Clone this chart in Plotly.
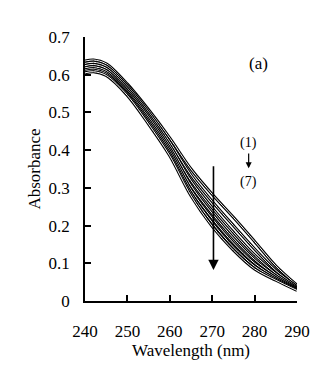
import plotly.graph_objects as go

# Wavelength grid (nm) and absorbance spectra (1) ... (7)
wavelength = [240, 242, 245, 250, 255, 260, 265, 270, 275, 280, 285, 290]
spec_1 = [0.636, 0.639, 0.629, 0.575, 0.507, 0.432, 0.350, 0.283, 0.222, 0.158, 0.093, 0.042]
spec_2 = [0.630, 0.633, 0.623, 0.570, 0.501, 0.422, 0.334, 0.264, 0.200, 0.138, 0.081, 0.038]
spec_3 = [0.624, 0.627, 0.617, 0.564, 0.494, 0.413, 0.319, 0.247, 0.182, 0.122, 0.073, 0.035]
spec_4 = [0.618, 0.621, 0.611, 0.558, 0.488, 0.405, 0.306, 0.232, 0.167, 0.110, 0.067, 0.033]
spec_5 = [0.613, 0.616, 0.606, 0.553, 0.481, 0.398, 0.295, 0.219, 0.154, 0.100, 0.062, 0.031]
spec_6 = [0.609, 0.612, 0.602, 0.549, 0.475, 0.391, 0.286, 0.208, 0.143, 0.092, 0.058, 0.030]
spec_7 = [0.605, 0.608, 0.598, 0.545, 0.469, 0.385, 0.279, 0.198, 0.135, 0.085, 0.055, 0.028]
spectra = [spec_1, spec_2, spec_3, spec_4, spec_5, spec_6, spec_7]

x_ticks = [240, 250, 260, 270, 280, 290]
y_ticks = [0, 0.1, 0.2, 0.3, 0.4, 0.5, 0.6, 0.7]
y_tick_text = ["0", "0.1", "0.2", "0.3", "0.4", "0.5", "0.6", "0.7"]

FONT = "Times New Roman, Liberation Serif, serif"

fig = go.Figure()
# each spectrum is drawn as an outlined line: black stroke with a white core
for s in spectra:
    fig.add_trace(go.Scatter(x=wavelength, y=s, mode="lines",
                             line=dict(color="black", width=3.0, shape="spline", smoothing=0.9),
                             hoverinfo="skip", showlegend=False))
    fig.add_trace(go.Scatter(x=wavelength, y=s, mode="lines",
                             line=dict(color="white", width=1.0, shape="spline", smoothing=0.9),
                             hoverinfo="skip", showlegend=False))

# large arrow showing the decrease from (1) to (7)
fig.add_annotation(x=270.3, y=0.082, ax=270.3, ay=0.361, xref="x", yref="y",
                   axref="x", ayref="y", text="", showarrow=True,
                   arrowhead=2, arrowsize=1.3, arrowwidth=1.6, arrowcolor="black")
# small legend arrow
fig.add_annotation(x=278.6, y=0.352, ax=278.6, ay=0.395, xref="x", yref="y",
                   axref="x", ayref="y", text="", showarrow=True,
                   arrowhead=2, arrowsize=1.0, arrowwidth=1.2, arrowcolor="black")
fig.add_annotation(x=278.6, y=0.419, text="(1)", showarrow=False,
                   font=dict(family=FONT, size=14, color="black"))
fig.add_annotation(x=278.6, y=0.316, text="(7)", showarrow=False,
                   font=dict(family=FONT, size=14, color="black"))
fig.add_annotation(x=281.0, y=0.631, text="(a)", showarrow=False,
                   font=dict(family=FONT, size=17, color="black"))

fig.update_layout(
    width=330, height=384,
    margin=dict(l=85, r=33, t=37, b=83),
    paper_bgcolor="white", plot_bgcolor="white",
    font=dict(family=FONT, size=17, color="black"),
)
fig.update_xaxes(range=[240, 290], tickvals=x_ticks, ticktext=[str(v) for v in x_ticks],
                 ticks="inside", ticklen=6, tickwidth=1.5, tickcolor="black",
                 showline=True, linecolor="black", linewidth=1.8, showgrid=False,
                 zeroline=False, ticklabelstandoff=14,
                 tickfont=dict(family=FONT, size=17),
                 title=dict(text="Wavelength (nm)", standoff=0,
                            font=dict(family=FONT, size=17)))
fig.update_yaxes(range=[0, 0.7], tickvals=y_ticks, ticktext=y_tick_text,
                 ticks="inside", ticklen=6, tickwidth=1.5, tickcolor="black",
                 showline=True, linecolor="black", linewidth=1.8, showgrid=False,
                 zeroline=False, ticklabelstandoff=10,
                 tickfont=dict(family=FONT, size=17),
                 title=dict(text="Absorbance", standoff=4,
                            font=dict(family=FONT, size=17)))

fig.write_html("out.html")
